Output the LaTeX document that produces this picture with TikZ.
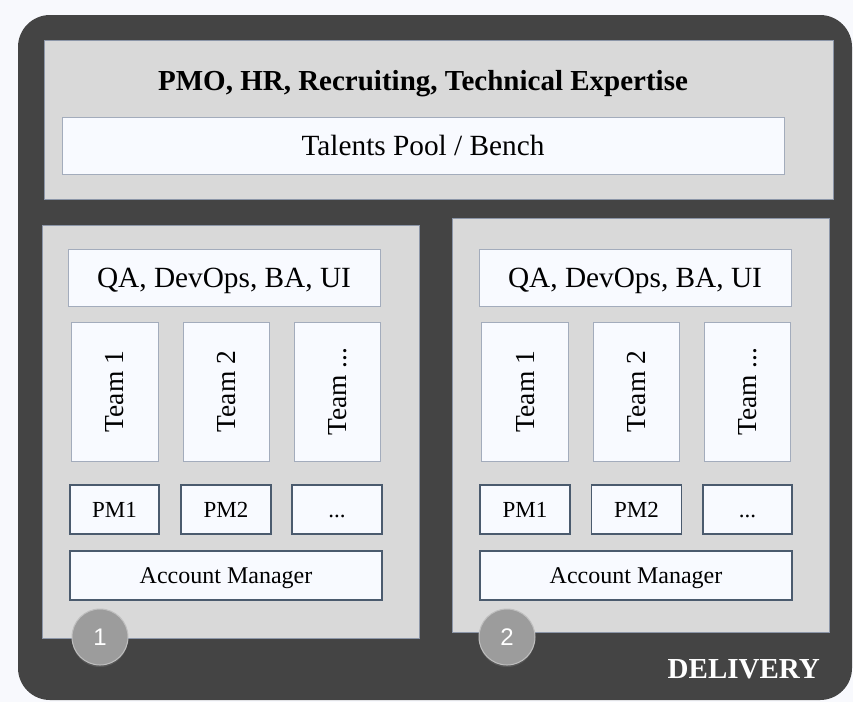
\documentclass[tikz,border=0pt]{standalone}
\usepackage{fontspec}
\setmainfont{Liberation Serif}
\newfontfamily\numfont{Liberation Sans}
\usetikzlibrary{shadows}
\definecolor{pagebg}{HTML}{F8F9FD}
\definecolor{frame}{HTML}{444444}
\definecolor{panel}{HTML}{D9D9D9}
\definecolor{panelline}{HTML}{8C96A8}
\definecolor{boxfill}{HTML}{F8FAFF}
\definecolor{boxline}{HTML}{A3ACBC}
\definecolor{darkline}{HTML}{4B5B6E}
\definecolor{badge}{HTML}{9C9C9C}
\tikzset{
  panelbox/.style={draw=panelline, line width=0.8pt, fill=panel, inner sep=0pt},
  % text height = cap height, so capitals sit in the middle of each box
  litebox/.style={draw=boxline, line width=0.9pt, fill=boxfill, inner sep=0pt,
    text height=19.3pt, text depth=0pt,
    font=\fontsize{29.3}{33}\selectfont},
  teambox/.style={draw=boxline, line width=0.9pt, fill=boxfill, inner sep=0pt,
    minimum height=139pt},
  teamtext/.style={rotate=90, inner sep=0pt, text height=18.2pt, text depth=0pt,
    font=\fontsize{27.5}{30}\selectfont},
  pmbox/.style={draw=darkline, line width=1.3pt, fill=boxfill, inner sep=0pt,
    text height=15.2pt, text depth=0pt,
    minimum height=49pt, font=\fontsize{23}{26}\selectfont},
  ambox/.style={pmbox, text height=15.8pt, font=\fontsize{24}{27}\selectfont},
  badgenode/.style={circle, draw=black!25, line width=1pt, fill=badge,
    minimum size=56pt, inner sep=0pt, text=white,
    font=\numfont\fontsize{24}{26}\selectfont,
    drop shadow={shadow xshift=0pt, shadow yshift=-2pt, opacity=0.35}},
}
\begin{document}
\begin{tikzpicture}[x=1pt, y=-1pt]
  % page and dark frame
  \fill[pagebg] (0,0) rectangle (853,702);
  \useasboundingbox (0,0) rectangle (853,702);
  \fill[frame, rounded corners=32pt] (18,15) rectangle (852,700);

  % shared services panel
  \node[panelbox, minimum width=789pt, minimum height=159pt] (top) at (438.5,119.5) {};
  \node[anchor=base, inner sep=0pt, font=\bfseries\fontsize{29}{32}\selectfont] (title) at (423,90)
    {PMO, HR, Recruiting, Technical Expertise};
  \node[litebox, minimum width=722pt, minimum height=57pt] (bench) at (423,145.5)
    {Talents Pool / Bench};

  % delivery unit 1
  \node[panelbox, minimum width=377pt, minimum height=413pt] (unitA) at (230.5,431.5) {};
  \node[litebox, minimum width=312pt, minimum height=57pt] (qaA) at (224,277.5) {QA, DevOps, BA, UI};
  \node[teambox, minimum width=87pt] (teamA1) at (114.5,391.5) {};
  \node[teambox, minimum width=86pt] (teamA2) at (226,391.5) {};
  \node[teambox, minimum width=86pt] (teamA3) at (337,391.5) {};
  \node[teamtext] at (teamA1) {Team 1};
  \node[teamtext] at (teamA2) {Team 2};
  \node[teamtext] at (teamA3) {Team ...};
  \node[pmbox, minimum width=89pt] (pmA1) at (114.5,509.5) {PM1};
  \node[pmbox, minimum width=90pt] (pmA2) at (226,509.5) {PM2};
  \node[pmbox, minimum width=90pt] (pmA3) at (337,509.5) {...};
  \node[ambox, minimum width=312pt] (amA) at (226,575.5) {Account Manager};

  % delivery unit 2
  \node[panelbox, minimum width=377pt, minimum height=414pt] (unitB) at (640.5,425) {};
  \node[litebox, minimum width=312pt, minimum height=57pt] (qaB) at (635,277.5) {QA, DevOps, BA, UI};
  \node[teambox, minimum width=87pt] (teamB1) at (525,391.5) {};
  \node[teambox, minimum width=86pt] (teamB2) at (636,391.5) {};
  \node[teambox, minimum width=86pt] (teamB3) at (747,391.5) {};
  \node[teamtext] at (teamB1) {Team 1};
  \node[teamtext] at (teamB2) {Team 2};
  \node[teamtext] at (teamB3) {Team ...};
  \node[pmbox, minimum width=90pt] (pmB1) at (525,509.5) {PM1};
  \node[pmbox, minimum width=90pt] (pmB2) at (636.5,509.5) {PM2};
  \node[pmbox, minimum width=89pt] (pmB3) at (747.5,509.5) {...};
  \node[ambox, minimum width=312pt] (amB) at (636,575.5) {Account Manager};

  % unit badges
  \node[badgenode] (badgeA) at (100,637) {1};
  \node[badgenode] (badgeB) at (507,637) {2};

  % frame label
  \node[anchor=base east, inner sep=0pt, text=white, font=\bfseries\fontsize{29}{32}\selectfont]
    (delivery) at (820,678) {DELIVERY};
\end{tikzpicture}
\end{document}
